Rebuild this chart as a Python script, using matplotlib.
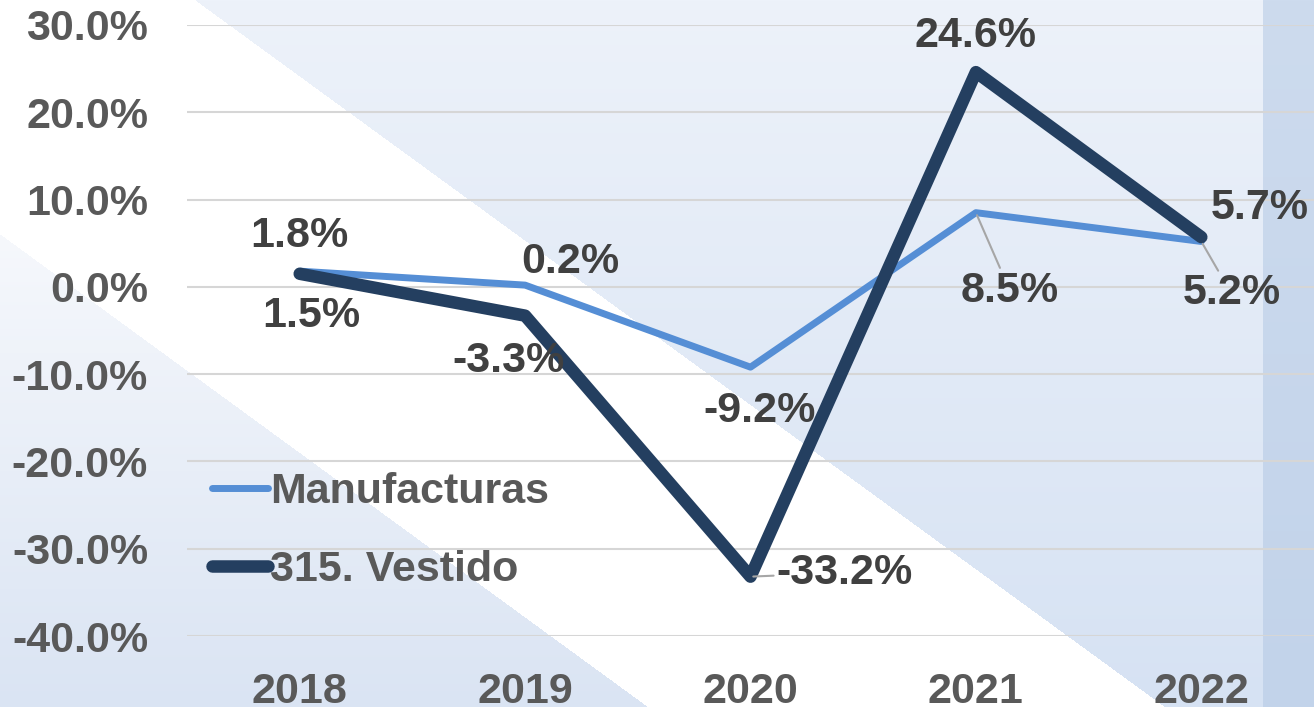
import matplotlib
matplotlib.use("Agg")
import matplotlib.pyplot as plt
import numpy as np

plt.rcParams['font.family'] = ['Liberation Sans', 'DejaVu Sans']
plt.rcParams['font.weight'] = 'bold'

years = ["2018", "2019", "2020", "2021", "2022"]
manufacturas = [1.8, 0.2, -9.2, 8.5, 5.2]
vestido = [1.5, -3.3, -33.2, 24.6, 5.7]
yticks = [30, 20, 10, 0, -10, -20, -30, -40]

# label offsets in pixels (dx, dy)
off_manuf = [(0, 35), (45, 23), (9, -44), (34, -78), (30, -52)]
off_vest = [(12, -42), (-17, -45), (94, 4), (0, 36), (58, 29)]
leader_manuf = [False, False, False, True, True]
leader_vest = [False, False, True, False, False]

W, H = 1314, 707
fig = plt.figure(figsize=(W / 100, H / 100), dpi=100)

# background
bg = fig.add_axes([0, 0, 1, 1], zorder=-5)
yy, xx = np.mgrid[0:H, 0:W].astype(float)
img = np.ones((H, W, 3))
top = np.array([0xed, 0xf2, 0xfa]) / 255
bot = np.array([0xd6, 0xe2, 0xf3]) / 255
t = (yy / H)[..., None]
upper = top * (1 - t) + bot * t
mask_up = xx > 195 + 1.372 * yy
img[mask_up] = upper[mask_up]
ll_top = np.array([0xf6, 0xf8, 0xfc]) / 255
ll_bot = np.array([0xda, 0xe4, 0xf3]) / 255
t2 = np.clip((yy - 234) / (H - 234), 0, 1)[..., None]
lower = ll_top * (1 - t2) + ll_bot * t2
mask_lo = xx < 1.37 * (yy - 234)
img[mask_lo] = lower[mask_lo]
s_top = np.array([0xcd, 0xdb, 0xee]) / 255
s_bot = np.array([0xc2, 0xd3, 0xea]) / 255
strip = s_top * (1 - t) + s_bot * t
mask_s = xx >= 1263
img[mask_s] = strip[mask_s]
bg.imshow(img, aspect='auto', interpolation='bilinear')
bg.axis('off')

ax = fig.add_axes([187 / W, 71 / H, 1 - 187 / W, (636 - 25) / H])
ax.patch.set_alpha(0)
x = np.arange(len(years))
ax.plot(x, manufacturas, color='#558ed5', lw=5, solid_capstyle='round',
        solid_joinstyle='round', zorder=3, label='Manufacturas')
ax.plot(x, vestido, color='#243f60', lw=9, solid_capstyle='round',
        solid_joinstyle='round', zorder=4, label='315. Vestido')

ax.set_xlim(-0.5, 4.5)
ax.set_ylim(-40, 30)
ax.set_yticks(yticks)
ax.set_yticklabels([f"{v:.1f}%" for v in yticks])
ax.set_xticks(x)
ax.set_xticklabels(years)
ax.tick_params(axis='both', length=0, labelsize=31, labelcolor='#595959')
ax.tick_params(axis='y', pad=28)
ax.tick_params(axis='x', pad=26)
ax.grid(axis='y', color='#d6d6d6', lw=1.5)
ax.set_axisbelow(True)
for sp in ax.spines.values():
    sp.set_visible(False)


def labels(vals, offs, leaders):
    for i, v in enumerate(vals):
        ap = None
        if leaders[i]:
            ap = dict(arrowstyle='-', color='#a6a6a6', lw=1.5, shrinkA=0, shrinkB=2)
        ax.annotate(f"{v:.1f}%", (x[i], v), xytext=offs[i], textcoords='offset pixels',
                    ha='center', va='center', fontsize=31, color='#404040',
                    fontweight='bold', arrowprops=ap, annotation_clip=False, zorder=6)


labels(manufacturas, off_manuf, leader_manuf)
labels(vestido, off_vest, leader_vest)

leg = ax.legend(loc='center left', bbox_to_anchor=(212 / W, (H - 531) / H),
                bbox_transform=fig.transFigure, frameon=False, fontsize=31,
                handlelength=1.3, handletextpad=0.05, labelspacing=0.88,
                borderpad=0, borderaxespad=0)
for txt in leg.get_texts():
    txt.set_color('#595959')

fig.savefig("out.png", dpi=100)
